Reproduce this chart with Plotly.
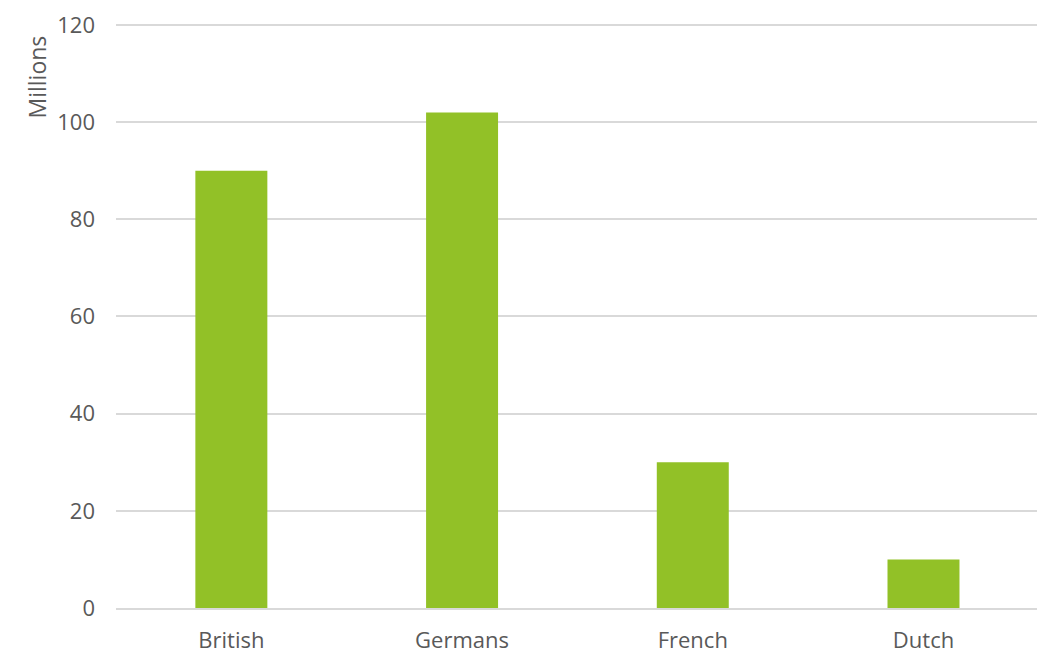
import plotly.graph_objects as go

categories = ["British", "Germans", "French", "Dutch"]
values = [90, 102, 30, 10]
y_ticks = [0, 20, 40, 60, 80, 100, 120]
y_title = "Millions"

W, H = 1037, 656
L, R, T, B = 116, 0, 23, 48
plot_w = W - L - R
plot_h = H - T - B

fig = go.Figure(go.Bar(x=categories, y=values, marker=dict(color="#92C127", line=dict(width=0)), width=0.312))
fig.update_layout(
    width=W, height=H,
    margin=dict(l=L, r=R, t=T, b=B, autoexpand=False),
    plot_bgcolor="white", paper_bgcolor="white",
    font=dict(family="Open Sans", size=22, color="#595959"),
    showlegend=False,
    annotations=[dict(text=y_title, textangle=-90, xref="paper", yref="paper",
                      x=(36 - L) / plot_w, y=1 - (77.5 - T) / plot_h,
                      xanchor="center", yanchor="middle", showarrow=False,
                      font=dict(size=23, color="#595959"))],
)
fig.update_yaxes(range=[0, 120.4], tickvals=y_ticks, showgrid=True, gridcolor="#D9D9D9", gridwidth=1.5,
                 zeroline=False, showline=False, ticks="", ticklabelstandoff=20, automargin=False)
fig.update_xaxes(range=[-0.5, 3.492], showline=True, linecolor="#D9D9D9", linewidth=1.5, ticks="",
                 ticklabelstandoff=12, automargin=False)
fig.write_html("out.html", config={"displayModeBar": False},
               post_script="document.body.style.margin='0';document.body.style.overflow='hidden';")
